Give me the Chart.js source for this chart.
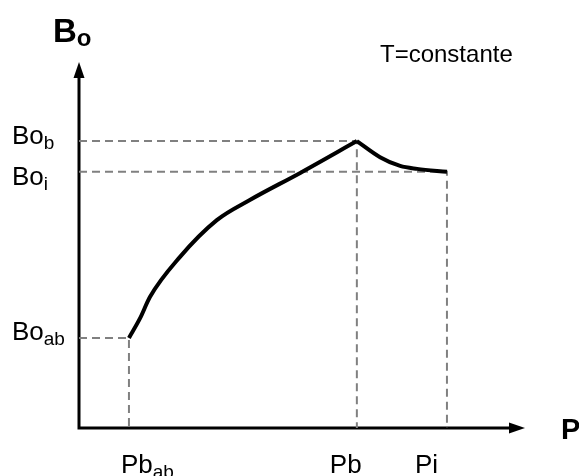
<!DOCTYPE html>
<html>
<head>
<meta charset="utf-8">
<script src="https://cdn.jsdelivr.net/npm/chart.js@4.4.0/dist/chart.umd.min.js"></script>
<style>
  html, body { margin: 0; padding: 0; background: #fff; }
  canvas { display: block; }
</style>
</head>
<body>
<canvas id="boChart" width="579" height="476"></canvas>
<script>
// Bo vs pressure at constant temperature
const curveP  = [1.12, 1.37, 1.59, 2.26, 3.09, 3.83, 4.96, 6.23, 6.75, 7.20, 7.58, 8.25];
const curveBo = [2.46, 3.00, 3.58, 4.67, 5.68, 6.23, 6.97, 7.84, 7.40, 7.16, 7.08, 7.00];

// reference points: Pb_ab / Bo_ab, Pb / Bo_b, Pi / Bo_i
const refP  = [1.12, 6.23, 8.25];
const refBo = [2.46, 7.84, 7.00];
const pLabels  = [['Pb', 'ab'], ['Pb', ''], ['Pi', '']];
const boLabels = [['Bo', 'ab'], ['Bo', 'b'], ['Bo', 'i']];

const FONT = '"Liberation Sans", Arial, sans-serif';

// split the curve at the bubble point so the peak stays sharp
const peak = curveBo.indexOf(Math.max(...curveBo));
const toPts = (xs, ys) => xs.map((x, i) => ({ x: x, y: ys[i] }));
const rise = toPts(curveP.slice(0, peak + 1), curveBo.slice(0, peak + 1));
const fall = toPts(curveP.slice(peak), curveBo.slice(peak));

const curveStyle = {
    borderColor: '#000',
    borderWidth: 4,
    pointRadius: 0,
    cubicInterpolationMode: 'monotone',
    clip: false,
    order: 0
};

const datasets = [
    Object.assign({ data: rise }, curveStyle),
    Object.assign({ data: fall }, curveStyle)
];

// dashed guides: from the Bo axis across to the point, then down to P axis
refP.forEach((p, i) => {
    datasets.push({
        data: [{ x: 0, y: refBo[i] }, { x: p, y: refBo[i] }, { x: p, y: 0 }],
        borderColor: '#808080',
        borderWidth: 2,
        borderDash: [8, 5],
        pointRadius: 0,
        tension: 0,
        clip: false,
        order: 1
    });
});

function drawSub(ctx, x, y, main, sub, size, subSize, bold, drop) {
    const w = bold ? 'bold ' : '';
    ctx.font = w + size + 'px ' + FONT;
    ctx.fillText(main, x, y);
    if (sub) {
        const mw = ctx.measureText(main).width;
        ctx.font = w + subSize + 'px ' + FONT;
        ctx.fillText(sub, x + mw, y + drop);
    }
}

const axesPlugin = {
    id: 'axesPlugin',
    beforeDatasetsDraw: (chart) => {
        const ctx = chart.ctx;
        const xs = chart.scales.x, ys = chart.scales.y;
        const x0 = xs.getPixelForValue(0), y0 = ys.getPixelForValue(0);
        const xEnd = xs.getPixelForValue(xs.max), yEnd = ys.getPixelForValue(ys.max);
        ctx.save();
        ctx.strokeStyle = '#000';
        ctx.fillStyle = '#000';
        ctx.lineWidth = 3;
        ctx.beginPath();
        ctx.moveTo(x0, yEnd + 12);
        ctx.lineTo(x0, y0);
        ctx.lineTo(xEnd - 12, y0);
        ctx.stroke();
        // arrow heads
        ctx.beginPath();
        ctx.moveTo(x0, yEnd);
        ctx.lineTo(x0 - 5.5, yEnd + 16);
        ctx.lineTo(x0 + 5.5, yEnd + 16);
        ctx.closePath();
        ctx.fill();
        ctx.beginPath();
        ctx.moveTo(xEnd, y0);
        ctx.lineTo(xEnd - 16, y0 - 5.5);
        ctx.lineTo(xEnd - 16, y0 + 5.5);
        ctx.closePath();
        ctx.fill();
        ctx.restore();
    },
    afterDraw: (chart) => {
        const ctx = chart.ctx;
        const xs = chart.scales.x, ys = chart.scales.y;
        const y0 = ys.getPixelForValue(0);
        ctx.save();
        ctx.fillStyle = '#000';
        ctx.textAlign = 'left';
        ctx.textBaseline = 'alphabetic';

        // axis titles
        drawSub(ctx, 53, 42, 'B', 'o', 33, 24, true, 4);
        ctx.font = 'bold 29px ' + FONT;
        ctx.fillText('P', 561, y0 + 11);
        ctx.font = '24px ' + FONT;
        ctx.fillText('T=constante', 380, 62);

        // Bo labels on the left
        const boShift = [2, 3, 13];
        boLabels.forEach((l, i) => {
            const y = ys.getPixelForValue(refBo[i]) + boShift[i];
            drawSub(ctx, 12, y, l[0], l[1], 26, 19, false, 5);
        });

        // P labels under the axis
        const pShift = [-8, -27, -32];
        pLabels.forEach((l, i) => {
            const x = xs.getPixelForValue(refP[i]) + pShift[i];
            drawSub(ctx, x, y0 + 45, l[0], l[1], 26, 19, false, 5);
        });
        ctx.restore();
    }
};

new Chart(document.getElementById('boChart').getContext('2d'), {
    type: 'line',
    data: { datasets: datasets },
    options: {
        responsive: false,
        animation: false,
        layout: { padding: { left: 79, right: 54, top: 62, bottom: 48 } },
        scales: {
            x: { type: 'linear', min: 0, max: 10, display: false },
            y: { type: 'linear', min: 0, max: 10, display: false }
        },
        plugins: {
            legend: { display: false },
            tooltip: { enabled: false }
        }
    },
    plugins: [axesPlugin]
});
</script>
</body>
</html>
